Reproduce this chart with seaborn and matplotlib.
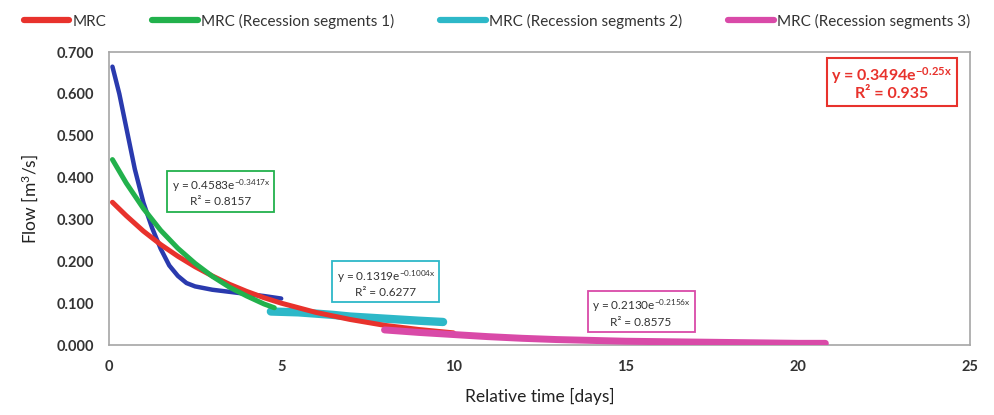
import matplotlib
matplotlib.use("Agg")
import matplotlib.pyplot as plt
import seaborn as sns
import pandas as pd
from matplotlib.lines import Line2D

# ---- data ----
obs_x = [0.1, 0.3, 0.5, 0.75, 1.0, 1.25, 1.5, 1.75, 2.0, 2.25, 2.5, 3.0, 3.5, 4.0, 4.5, 5.0]
obs_y = [0.665, 0.600, 0.520, 0.420, 0.340, 0.280, 0.230, 0.190, 0.165, 0.148, 0.140, 0.132, 0.127, 0.122, 0.117, 0.111]

mrc_x = [0.1, 0.5, 1, 1.5, 2, 2.5, 3, 3.5, 4, 4.5, 5, 6, 7, 8, 9, 10]
mrc_y = [0.341, 0.309, 0.272, 0.240, 0.212, 0.187, 0.165, 0.145, 0.128, 0.113, 0.100, 0.078, 0.061, 0.047, 0.037, 0.029]

seg1_x = [0.1, 0.5, 1, 1.5, 2, 2.5, 3, 3.5, 4, 4.5, 4.8]
seg1_y = [0.443, 0.387, 0.326, 0.274, 0.231, 0.195, 0.164, 0.138, 0.117, 0.098, 0.089]

seg2_x = [4.7, 5.5, 6.5, 7.0, 8.0, 9.0, 9.7]
seg2_y = [0.080, 0.078, 0.072, 0.068, 0.063, 0.058, 0.055]

seg3_x = [8.0, 9, 10, 11, 12, 13, 14, 15, 16, 17, 18, 19, 20, 20.8]
seg3_y = [0.036, 0.030, 0.025, 0.020, 0.016, 0.013, 0.011, 0.009, 0.008, 0.007, 0.006, 0.005, 0.004, 0.004]

series_names = ["MRC", "MRC (Recession segments 1)", "MRC (Recession segments 2)", "MRC (Recession segments 3)"]
x_ticks = [0, 5, 10, 15, 20, 25]
y_ticks = [0.0, 0.1, 0.2, 0.3, 0.4, 0.5, 0.6, 0.7]

fit_texts = [
    ("y = 0.4583e$^{\\mathrm{-0.3417x}}$\nR² = 0.8157", 3.25, 0.365, "#22b14c"),
    ("y = 0.1319e$^{\\mathrm{-0.1004x}}$\nR² = 0.6277", 8.04, 0.148, "#2db8c8"),
    ("y = 0.2130e$^{\\mathrm{-0.2156x}}$\nR² = 0.8575", 15.45, 0.0764, "#d94aa8"),
]
main_fit = "y = 0.3494e$^{\\mathbf{-0.25x}}$\nR² = 0.935"

# ---- styling ----
sns.set_theme(style="white")
FONT = ["Lato", "DejaVu Sans"]
plt.rcParams["font.family"] = FONT
plt.rcParams["mathtext.fontset"] = "custom"
plt.rcParams["mathtext.rm"] = "Lato"
plt.rcParams["mathtext.it"] = "Lato:italic"
plt.rcParams["mathtext.bf"] = "Lato:bold"

c_blue = "#2a3aae"
c_red = "#e8322c"
c_green = "#22b14c"
c_cyan = "#2db8c8"
c_pink = "#d94aa8"

fig = plt.figure(figsize=(9.94, 4.15), dpi=100)
ax = fig.add_axes([109 / 994, 1 - 345 / 415, (970 - 109) / 994, (345 - 52) / 415])

df_obs = pd.DataFrame({"x": obs_x, "y": obs_y})
df_mrc = pd.DataFrame({"x": mrc_x, "y": mrc_y})
df_s1 = pd.DataFrame({"x": seg1_x, "y": seg1_y})
df_s2 = pd.DataFrame({"x": seg2_x, "y": seg2_y})
df_s3 = pd.DataFrame({"x": seg3_x, "y": seg3_y})

lw = 3.6
sns.lineplot(data=df_obs, x="x", y="y", ax=ax, color=c_blue, lw=3.2, sort=False, zorder=2)
sns.lineplot(data=df_s2, x="x", y="y", ax=ax, color=c_cyan, lw=6.0, sort=False, zorder=3)
sns.lineplot(data=df_mrc, x="x", y="y", ax=ax, color=c_red, lw=lw, sort=False, zorder=4)
sns.lineplot(data=df_s3, x="x", y="y", ax=ax, color=c_pink, lw=5.0, sort=False, zorder=5)
sns.lineplot(data=df_s1, x="x", y="y", ax=ax, color=c_green, lw=lw, sort=False, zorder=6)

ax.set_xlim(0, 25)
ax.set_ylim(0, 0.7)
ax.set_xticks(x_ticks)
ax.set_yticks(y_ticks)
ax.set_yticklabels([f"{v:.3f}" for v in y_ticks])
ax.set_xticklabels([str(v) for v in x_ticks])
ax.tick_params(axis="both", which="both", direction="out", length=5, width=1,
               color="#a0a0a0", labelsize=10.5, labelcolor="#333333", pad=6)
for lab in ax.get_xticklabels() + ax.get_yticklabels():
    lab.set_fontweight("bold")
for sp in ax.spines.values():
    sp.set_visible(True)
    sp.set_color("#a6a6a6")
    sp.set_linewidth(1.2)

ax.set_xlabel("Relative time [days]", fontsize=12.5, color="#222222", labelpad=10)
ax.set_ylabel("Flow [m$^3$/s]", fontsize=12.5, color="#222222", labelpad=12)

for txt, xx, yy, col in fit_texts:
    ax.text(xx, yy, txt, ha="center", va="center", fontsize=8.5, color="#333333",
            linespacing=1.3, zorder=10,
            bbox=dict(boxstyle="square,pad=0.35", fc="white", ec=col, lw=1.3))

ax.text(22.73, 0.626, main_fit, ha="center", va="center", fontsize=11.5, color=c_red,
        fontweight="bold", linespacing=1.15, zorder=10,
        bbox=dict(boxstyle="square,pad=0.3", fc="white", ec=c_red, lw=1.5))

handles = [Line2D([0], [0], color=c, lw=4.5) for c in [c_red, c_green, c_cyan, c_pink]]
fig.legend(handles, series_names, loc="upper center", bbox_to_anchor=(0.5, 1.0), ncol=4,
           frameon=False, fontsize=11, handlelength=3.0, handletextpad=0.2,
           columnspacing=3.0, labelcolor="#333333")

fig.savefig("out.png", dpi=100)
